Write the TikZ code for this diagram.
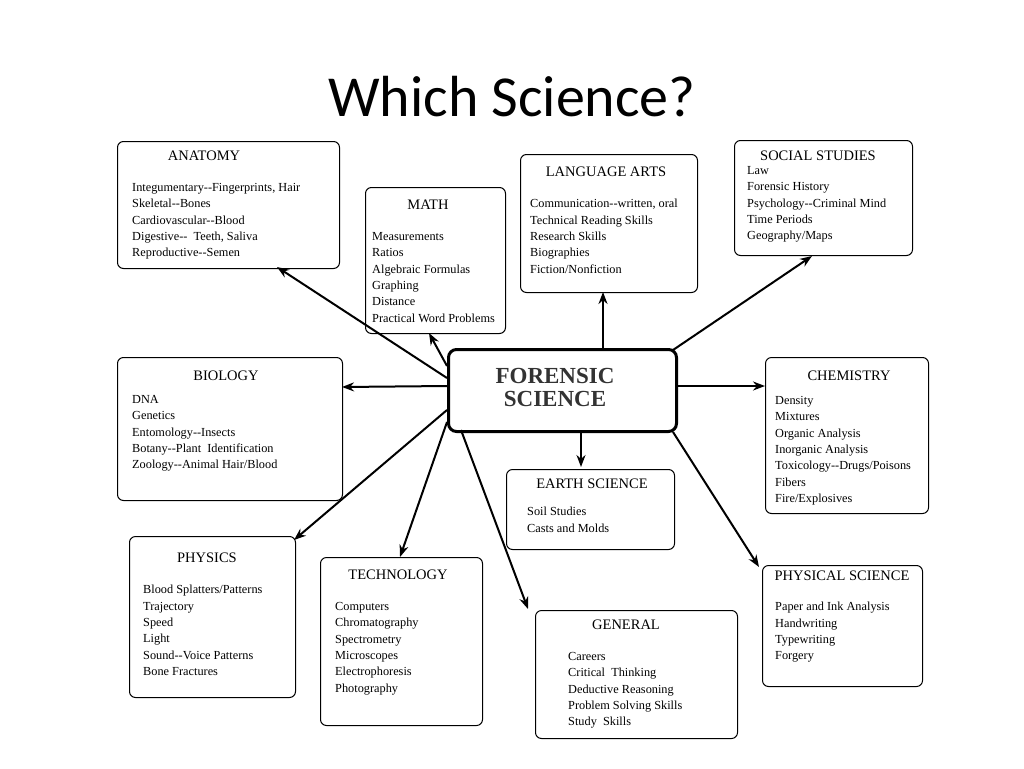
\documentclass[tikz,border=0pt]{standalone}
\usetikzlibrary{arrows.meta}
\usepackage{fontspec}
\setmainfont{Liberation Serif}
\newfontfamily\titlefont{Carlito}
\begin{document}
\begin{tikzpicture}[x=1pt,y=-1pt,
  box/.style={draw,line width=1pt,rounded corners=6pt,anchor=north west,inner sep=0pt},
  head/.style={anchor=north,font=\fontsize{14.5}{16}\selectfont},
  body/.style={anchor=north west,align=left,inner sep=0pt,font=\fontsize{12.3}{16.4}\selectfont},
  arr/.style={-{Stealth[length=12pt,width=9pt]},line width=2pt}]
\useasboundingbox (0,0) rectangle (1024,768);
\node[font=\titlefont\fontsize{58}{60}\selectfont] (title) at (512,97) {Which Science?};
% boxes
\node[box,minimum width=222,minimum height=127] (anat) at (117,141) {};
\node[head] at (204,147) {ANATOMY};
\node[body] at (132,183) {Integumentary-{}-Fingerprints, Hair\\Skeletal-{}-Bones\\Cardiovascular-{}-Blood\\Digestive-{}-\ \ Teeth, Saliva\\Reproductive-{}-Semen};
\node[box,minimum width=140,minimum height=146] (math) at (365,187) {};
\node[head] at (428,196) {MATH};
\node[body] at (372,232) {Measurements\\Ratios\\Algebraic Formulas\\Graphing\\Distance\\Practical Word Problems};
\node[box,minimum width=177,minimum height=138] (lang) at (520,154) {};
\node[head] at (606,163) {LANGUAGE ARTS};
\node[body] at (530,199) {Communication-{}-written, oral\\Technical Reading Skills\\Research Skills\\Biographies\\Fiction/Nonfiction};
\node[box,minimum width=178,minimum height=115] (soc) at (734,140) {};
\node[head] at (818,147) {SOCIAL STUDIES};
\node[body] at (747,166) {Law\\Forensic History\\Psychology-{}-Criminal Mind\\Time Periods\\Geography/Maps};
\node[box,minimum width=228,minimum height=82,line width=3pt,rounded corners=8pt] (fs) at (447,348) {};
\node[align=center,font=\fontsize{23}{23}\selectfont\bfseries,text=black!80] at (555,387) {FORENSIC\\SCIENCE};
\node[box,minimum width=225,minimum height=143] (bio) at (117,357) {};
\node[head] at (226,367) {BIOLOGY};
\node[body] at (132,395) {DNA\\Genetics\\Entomology-{}-Insects\\Botany-{}-Plant\ \ Identification\\Zoology-{}-Animal Hair/Blood};
\node[box,minimum width=163,minimum height=156] (chem) at (765,357) {};
\node[head] at (849,367) {CHEMISTRY};
\node[body] at (775,396) {Density\\Mixtures\\Organic Analysis\\Inorganic Analysis\\Toxicology-{}-Drugs/Poisons\\Fibers\\Fire/Explosives};
\node[box,minimum width=168,minimum height=80] (earth) at (506,469) {};
\node[head] at (592,475) {EARTH SCIENCE};
\node[body] at (527,507) {Soil Studies\\Casts and Molds};
\node[box,minimum width=166,minimum height=161] (phys) at (129,536) {};
\node[head] at (207,549) {PHYSICS};
\node[body] at (143,585) {Blood Splatters/Patterns\\Trajectory\\Speed\\Light\\Sound-{}-Voice Patterns\\Bone Fractures};
\node[box,minimum width=162,minimum height=168] (tech) at (320,557) {};
\node[head] at (398,566) {TECHNOLOGY};
\node[body] at (335,602) {Computers\\Chromatography\\Spectrometry\\Microscopes\\Electrophoresis\\Photography};
\node[box,minimum width=202,minimum height=128] (gen) at (535,610) {};
\node[head] at (626,616) {GENERAL};
\node[body] at (568,652) {Careers\\Critical\ \ Thinking\\Deductive Reasoning\\Problem Solving Skills\\Study\ \ Skills};
\node[box,minimum width=160,minimum height=121] (physci) at (762,565) {};
\node[head] at (842,567) {PHYSICAL SCIENCE};
\node[body] at (775,602) {Paper and Ink Analysis\\Handwriting\\Typewriting\\Forgery};
% arrows
\coordinate (a1) at (447,378); \coordinate (b1) at (277,267);
\coordinate (a2) at (447,366); \coordinate (b2) at (429,333);
\coordinate (a3) at (603,348); \coordinate (b3) at (603,292);
\coordinate (a4) at (673,350); \coordinate (b4) at (812,256);
\coordinate (a5) at (447,386); \coordinate (b5) at (342,387);
\coordinate (a6) at (675,386); \coordinate (b6) at (765,386);
\coordinate (a7) at (581,430); \coordinate (b7) at (581,467);
\coordinate (a8) at (447,410); \coordinate (b8) at (294,540);
\coordinate (a9) at (447,422); \coordinate (b9) at (400,557);
\coordinate (a10) at (461,430); \coordinate (b10) at (528,609);
\coordinate (a11) at (673,432); \coordinate (b11) at (759,567);
\foreach \i in {1,...,11} \draw[arr] (a\i) -- (b\i);
\end{tikzpicture}
\end{document}
